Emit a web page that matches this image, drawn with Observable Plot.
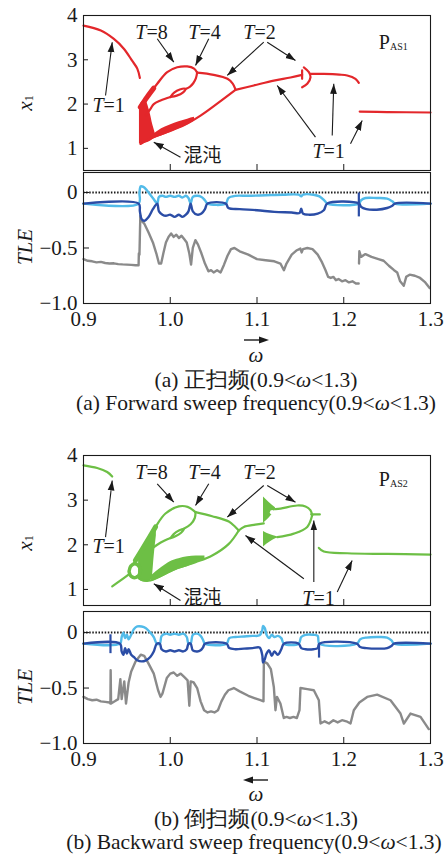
<!DOCTYPE html>
<html>
<head>
<meta charset="utf-8">
<script src="https://cdn.jsdelivr.net/npm/d3@7"></script>
<script src="https://cdn.jsdelivr.net/npm/@observablehq/plot@0.6"></script>
<style>
  body { margin: 0; background: #fff; }
  #fig { position: relative; width: 448px; height: 865px; overflow: hidden;
         font-family: "Liberation Serif", "DejaVu Serif", serif; color: #1a1a1a; }
  #fig svg.panel { position: absolute; left: 0; }
  .txt { position: absolute; white-space: nowrap; font-size: 21.5px; line-height: 0.8; transform: translate(-50%, -50%); }
  .txt i { font-style: italic; }
  .txt.w { line-height: 0.55; font-size: 21px; }
</style>
</head>
<body>
<div id="fig"></div>
<script>
// ---------- axes ----------
const omegaTicks = [0.9, 1.0, 1.1, 1.2, 1.3];
const x1Ticks = [1, 2, 3, 4];
const tleTicks = [-1, -0.5, 0];

// ---------- forward sweep: bifurcation branches [ω, x1] ----------
const fwdT1Left   = [[0.900,3.77],[0.920,3.66],[0.935,3.47],[0.9465,3.25],[0.956,2.98],[0.962,2.80],[0.965,2.59]];
const fwdOuterTop = [[0.9655,1.93],[0.9734,2.16],[0.985,2.46],[0.9965,2.72],[1.008,2.83],[1.0195,2.85],[1.0275,2.80],[1.031,2.71]];
const fwdT2Upper  = [[1.031,2.71],[1.050,2.66],[1.066,2.57],[1.072,2.46],[1.0752,2.33]];
const fwdInnerA   = [[1.031,2.71],[1.0295,2.58],[1.0265,2.47],[1.0225,2.39],[1.0176,2.34]];
const fwdLoop8    = [[1.0003,2.16],[1.0045,2.26],[1.011,2.33],[1.0176,2.34],[1.0145,2.26],[1.0075,2.19],[1.0003,2.16]];
const fwdInnerB   = [[1.0003,2.16],[0.9888,2.08],[0.981,2.0],[0.9772,1.89],[0.972,1.75]];
const fwdLowerArc = [[1.0752,2.32],[1.0541,2.01],[1.0349,1.74],[1.0156,1.52],[0.9965,1.37],[0.9772,1.22],[0.9657,1.10]];
const fwdT1Mid    = [[1.0752,2.32],[1.0963,2.42],[1.1194,2.53],[1.1386,2.60],[1.152,2.66]];
const fwdT2Tick   = [[1.152,2.57],[1.152,2.76]];
const fwdT2Hook   = [[1.154,2.83],[1.1598,2.72],[1.1617,2.61],[1.1579,2.46],[1.152,2.38]];
const fwdT1Right  = [[1.1617,2.68],[1.177,2.68],[1.195,2.665],[1.204,2.645],[1.2135,2.57],[1.2174,2.48]];
const fwdT1Low    = [[1.2184,1.83],[1.25,1.82],[1.3,1.81]];
const fwdThick    = [[0.9655,1.93],[0.9734,2.16],[0.981,2.36]];
// chaotic bands [ω, low, high]
const fwdChaosWedge = [[0.9645,1.10,1.93],[0.968,1.10,2.06],[0.972,1.12,2.06],[0.976,1.15,1.86],[0.980,1.20,1.52],[0.983,1.25,1.32]];
const fwdChaosBand  = [[0.978,1.20,1.27],[0.99,1.28,1.44],[1.0,1.36,1.53],[1.01,1.44,1.60],[1.02,1.53,1.66],[1.028,1.62,1.70]];

// ---------- backward sweep: bifurcation branches [ω, x1] ----------
const bwdT1Left   = [[0.900,3.78],[0.9158,3.72],[0.9273,3.63],[0.9331,3.53]];
const bwdTail     = [[0.9331,1.07],[0.9484,1.28],[0.9535,1.36]];
const bwdHole     = [[0.9525,1.40],[0.9545,1.52],[0.9595,1.575],[0.9645,1.50],[0.9650,1.36],[0.9605,1.27],[0.9550,1.29],[0.9525,1.40]];
const bwdOuterTop = [[0.9575,1.57],[0.9599,1.65],[0.9715,2.02],[0.983,2.40],[0.9945,2.70],[1.0099,2.86],[1.020,2.85],[1.0291,2.73]];
const bwdT2Upper  = [[1.0291,2.73],[1.0484,2.64],[1.0675,2.52],[1.0745,2.41],[1.079,2.32]];
const bwdInnerA   = [[1.0291,2.73],[1.0283,2.60],[1.0235,2.46],[1.0156,2.36]];
const bwdLoop8    = [[1.0003,2.15],[1.004,2.24],[1.010,2.32],[1.0156,2.36],[1.0125,2.27],[1.006,2.19],[1.0003,2.15]];
const bwdInnerB   = [[1.0003,2.15],[0.993,2.09],[0.985,2.0],[0.978,1.9]];
const bwdLowerArc = [[1.079,2.32],[1.0675,2.02],[1.0484,1.76],[1.0291,1.61],[1.006,1.46],[0.9868,1.28],[0.9772,1.20],[0.966,1.22],[0.962,1.30]];
const bwdT1Mid    = [[1.079,2.32],[1.0848,2.40],[1.098,2.45],[1.1078,2.48]];
const bwdIslandUp = [[1.1213,2.80],[1.1271,2.81],[1.1463,2.88],[1.1559,2.86],[1.1617,2.77],[1.1636,2.66]];
const bwdIslandLo = [[1.1233,2.17],[1.1424,2.25],[1.1579,2.40],[1.1636,2.66]];
const bwdT1Stub   = [[1.1625,2.68],[1.1724,2.68]];
const bwdT1Low    = [[1.1713,1.93],[1.177,1.85],[1.204,1.81],[1.25,1.795],[1.3,1.78]];
const bwdThick    = [[0.9599,1.65],[0.9715,2.02],[0.983,2.40]];
const bwdChaosBlob = [[0.9635,1.22,1.76],[0.968,1.17,1.93],[0.972,1.16,2.06],[0.976,1.18,2.18],[0.979,1.24,2.27],[0.9815,1.75,2.34],[0.984,2.20,2.42]];
const bwdChaosBand = [[0.978,1.17,1.30],[0.99,1.27,1.49],[1.0,1.37,1.62],[1.01,1.45,1.69],[1.02,1.51,1.73],[1.03,1.59,1.75],[1.04,1.67,1.75]];
const bwdTriUp  = [[1.1075,2.48,3.07],[1.114,2.60,2.95],[1.1213,2.78,2.83]];
const bwdTriLow = [[1.1075,1.95,2.30],[1.115,2.06,2.23],[1.1233,2.15,2.18]];
const bwdVoids  = [[1.1175,2.73]];

// ---------- annotations ----------
const fwdPeriods = [[0.9726,3.62,"8"],[1.0337,3.62,"4"],[1.0971,3.62,"2"],[0.9231,1.97,"1"],[1.1767,0.935,"1"]];
const bwdPeriods = [[0.9726,3.626,"8"],[1.0337,3.626,"4"],[1.0971,3.626,"2"],[0.9231,1.963,"1"],[1.1651,0.79,"1"]];
const fwdChaosNote = [[1.0372,0.82,"混沌"]];
const bwdChaosNote = [[1.0372,0.80,"混沌"]];
const fwdTag = [[1.2533,3.39,"P","AS1",3.30]];
const bwdTag = [[1.2533,3.45,"P","AS2",3.36]];
const fwdPointers = [[0.9254,2.194,0.9331,3.397],[0.985,3.474,1.0041,2.946],[1.0444,3.474,1.0291,2.871],
  [1.1078,3.397,1.0657,2.646],[1.1118,3.397,1.1444,2.984],[1.1674,1.253,1.1233,2.42],
  [1.1867,1.291,1.1885,2.458],[1.2078,1.104,1.2213,1.63],[1.0118,0.801,0.981,1.14]];
const bwdPointers = [[0.9254,2.171,0.9331,3.44],[0.985,3.366,1.0041,2.955],[1.0444,3.366,1.0291,2.881],
  [1.1078,3.328,1.0657,2.619],[1.1118,3.328,1.1444,2.955],[1.154,1.24,1.0867,2.209],
  [1.1655,1.164,1.1655,2.545],[1.1925,0.94,1.2097,1.65],[1.0118,0.754,0.981,1.128]];

// ---------- TLE spectra [ω, TLE] ----------
const fwdTleLight = [[0.9,-0.1],[0.9636,-0.1],[0.9645,0.0],[0.966,0.055],[0.969,0.05],[0.973,0.02],[0.977,-0.02],[0.981,-0.06],[0.985,-0.1],
  [0.987,-0.04],[0.991,-0.03],[0.995,-0.04],[1.000,-0.03],[1.005,-0.04],[1.010,-0.03],[1.014,-0.045],[1.018,-0.03],[1.021,-0.05],[1.0235,-0.1],
  [1.026,-0.04],[1.031,-0.03],[1.036,-0.04],[1.040,-0.07],[1.043,-0.1],[1.064,-0.1],[1.067,-0.05],[1.075,-0.03],[1.090,-0.03],[1.110,-0.025],
  [1.130,-0.02],[1.148,-0.02],[1.151,-0.035],[1.153,-0.02],[1.165,-0.02],[1.172,-0.035],[1.178,-0.075],[1.181,-0.1],[1.2176,-0.1],
  [1.220,-0.07],[1.225,-0.05],[1.238,-0.05],[1.250,-0.055],[1.256,-0.08],[1.259,-0.1],[1.3,-0.1]];
const fwdTleDark = [[0.9,-0.1],[0.9636,-0.1],[0.965,-0.17],[0.967,-0.24],[0.970,-0.255],[0.975,-0.22],[0.980,-0.15],[0.985,-0.1],
  [0.987,-0.17],[0.991,-0.2],[0.995,-0.21],[1.000,-0.2],[1.005,-0.22],[1.010,-0.2],[1.014,-0.22],[1.018,-0.2],[1.021,-0.17],[1.0235,-0.1],
  [1.026,-0.17],[1.031,-0.2],[1.036,-0.19],[1.040,-0.15],[1.043,-0.1],[1.064,-0.1],[1.067,-0.14],[1.080,-0.15],[1.100,-0.16],[1.120,-0.175],
  [1.140,-0.18],[1.149,-0.185],[1.151,-0.145],[1.153,-0.19],[1.160,-0.2],[1.170,-0.19],[1.177,-0.16],[1.181,-0.1],[1.2176,-0.1],
  [1.220,-0.13],[1.226,-0.15],[1.238,-0.155],[1.250,-0.14],[1.256,-0.12],[1.259,-0.1],[1.3,-0.1]];
const fwdTleJumps = [[1.2174,-0.005,-0.22]];
const fwdTleGray = [[0.900,-0.60],[0.905,-0.615],[0.910,-0.62],[0.915,-0.63],[0.920,-0.625],[0.925,-0.635],[0.930,-0.64],[0.935,-0.638],
  [0.940,-0.645],[0.945,-0.648],[0.950,-0.65],[0.955,-0.652],[0.960,-0.655],[0.9635,-0.655],[0.9638,-0.55],[0.9645,-0.56],[0.9655,-0.21],
  [0.9665,-0.25],[0.970,-0.28],[0.975,-0.36],[0.980,-0.45],[0.984,-0.55],[0.987,-0.64],[0.9895,-0.64],[0.992,-0.55],[0.995,-0.45],
  [0.998,-0.40],[1.001,-0.37],[1.004,-0.40],[1.007,-0.38],[1.010,-0.41],[1.013,-0.39],[1.016,-0.42],[1.019,-0.45],[1.022,-0.55],
  [1.024,-0.65],[1.026,-0.50],[1.029,-0.43],[1.032,-0.47],[1.036,-0.55],[1.040,-0.64],[1.044,-0.71],[1.047,-0.70],[1.050,-0.72],
  [1.054,-0.70],[1.058,-0.72],[1.062,-0.65],[1.066,-0.57],[1.070,-0.51],[1.074,-0.50],[1.080,-0.53],[1.090,-0.56],[1.100,-0.60],
  [1.110,-0.61],[1.120,-0.62],[1.127,-0.64],[1.131,-0.70],[1.134,-0.64],[1.140,-0.56],[1.146,-0.52],[1.150,-0.505],[1.1515,-0.54],
  [1.153,-0.51],[1.158,-0.50],[1.164,-0.51],[1.170,-0.56],[1.175,-0.63],[1.179,-0.70],[1.182,-0.76],[1.185,-0.77],[1.188,-0.76],
  [1.191,-0.79],[1.194,-0.78],[1.198,-0.80],[1.202,-0.79],[1.206,-0.81],[1.210,-0.80],[1.214,-0.82],[1.2172,-0.82],[1.2173,null],
  [1.2176,-0.64],[1.218,-0.53],[1.220,-0.58],[1.225,-0.555],[1.232,-0.58],[1.240,-0.60],[1.246,-0.615],[1.252,-0.66],[1.258,-0.70],
  [1.2616,-0.72],[1.265,-0.80],[1.2692,-0.84],[1.272,-0.76],[1.276,-0.74],[1.282,-0.75],[1.288,-0.77],[1.294,-0.81],[1.299,-0.86]];

const bwdTleLight = [[0.9,-0.1],[0.942,-0.1],[0.944,-0.04],[0.946,0.0],[0.948,-0.05],[0.950,-0.02],[0.952,-0.06],[0.955,-0.02],
  [0.958,0.03],[0.962,0.055],[0.967,0.055],[0.972,0.04],[0.977,0.0],[0.981,-0.04],[0.9845,-0.1],[0.988,-0.1],[0.990,-0.03],
  [0.995,-0.01],[1.0,-0.02],[1.005,-0.01],[1.010,-0.02],[1.015,-0.01],[1.019,-0.04],[1.021,-0.1],[1.0235,-0.1],[1.026,-0.02],
  [1.031,-0.01],[1.035,-0.03],[1.038,-0.07],[1.040,-0.1],[1.065,-0.1],[1.068,-0.05],[1.075,-0.04],[1.085,-0.035],[1.095,-0.03],
  [1.103,-0.025],[1.106,0.02],[1.107,0.06],[1.109,0.04],[1.111,-0.02],[1.114,-0.05],[1.117,-0.02],[1.120,-0.04],[1.124,-0.03],
  [1.128,-0.05],[1.131,-0.1],[1.148,-0.1],[1.151,-0.04],[1.156,-0.02],[1.165,-0.02],[1.170,-0.03],[1.172,-0.1],[1.215,-0.1],
  [1.219,-0.06],[1.226,-0.045],[1.240,-0.04],[1.250,-0.045],[1.255,-0.07],[1.258,-0.1],[1.3,-0.1]];
const bwdTleDark = [[0.9,-0.1],[0.942,-0.1],[0.944,-0.17],[0.946,-0.2],[0.948,-0.14],[0.950,-0.19],[0.952,-0.15],[0.955,-0.2],
  [0.958,-0.22],[0.962,-0.25],[0.967,-0.26],[0.972,-0.25],[0.977,-0.22],[0.981,-0.17],[0.9845,-0.1],[0.988,-0.1],[0.990,-0.15],
  [0.995,-0.17],[1.0,-0.16],[1.005,-0.17],[1.010,-0.16],[1.015,-0.17],[1.019,-0.15],[1.021,-0.1],[1.0235,-0.1],[1.026,-0.16],
  [1.031,-0.17],[1.035,-0.16],[1.038,-0.13],[1.040,-0.1],[1.065,-0.1],[1.068,-0.14],[1.075,-0.15],[1.085,-0.145],[1.095,-0.14],
  [1.103,-0.135],[1.106,-0.2],[1.107,-0.27],[1.109,-0.24],[1.111,-0.19],[1.114,-0.16],[1.117,-0.21],[1.120,-0.17],[1.124,-0.2],
  [1.128,-0.15],[1.131,-0.1],[1.148,-0.1],[1.151,-0.14],[1.156,-0.15],[1.165,-0.15],[1.170,-0.14],[1.172,-0.1],[1.215,-0.1],
  [1.219,-0.13],[1.226,-0.14],[1.240,-0.145],[1.250,-0.14],[1.255,-0.12],[1.258,-0.1],[1.3,-0.1]];
const bwdTleJumps = [[0.9311,-0.02,-0.19],[1.1715,-0.1,-0.23]];
const bwdTleGray = [[0.900,-0.58],[0.905,-0.60],[0.910,-0.61],[0.915,-0.605],[0.920,-0.62],[0.925,-0.625],[0.930,-0.63],[0.931,-0.64],
  [0.9313,-0.34],[0.9318,-0.64],[0.936,-0.62],[0.940,-0.60],[0.9425,-0.42],[0.944,-0.60],[0.947,-0.44],[0.949,-0.64],[0.952,-0.45],
  [0.955,-0.35],[0.960,-0.26],[0.966,-0.20],[0.970,-0.21],[0.975,-0.28],[0.981,-0.37],[0.986,-0.52],[0.9888,-0.58],[0.991,-0.55],
  [0.996,-0.41],[1.000,-0.37],[1.004,-0.36],[1.008,-0.39],[1.012,-0.37],[1.016,-0.40],[1.020,-0.43],[1.022,-0.66],[1.0235,-0.44],
  [1.027,-0.45],[1.031,-0.50],[1.035,-0.62],[1.039,-0.70],[1.043,-0.72],[1.047,-0.71],[1.051,-0.72],[1.055,-0.70],[1.059,-0.62],
  [1.063,-0.56],[1.067,-0.52],[1.0733,-0.50],[1.080,-0.53],[1.090,-0.57],[1.097,-0.59],[1.104,-0.61],[1.1075,-0.62],[1.1079,-0.26],
  [1.112,-0.28],[1.116,-0.33],[1.1194,-0.49],[1.1213,-0.70],[1.123,-0.58],[1.127,-0.64],[1.1309,-0.77],[1.134,-0.76],[1.138,-0.77],
  [1.142,-0.76],[1.146,-0.77],[1.149,-0.70],[1.1501,-0.50],[1.158,-0.51],[1.1655,-0.52],[1.1713,-0.61],[1.1732,-0.82],[1.178,-0.80],
  [1.183,-0.82],[1.188,-0.79],[1.193,-0.81],[1.198,-0.79],[1.203,-0.80],[1.2078,-0.82],[1.2116,-0.70],[1.218,-0.63],[1.227,-0.58],
  [1.2385,-0.56],[1.2539,-0.61],[1.2654,-0.73],[1.2693,-0.82],[1.2769,-0.73],[1.2885,-0.76],[1.298,-0.87]];

// ---------- drawing ----------
const serif = "\"Liberation Serif\", \"DejaVu Serif\", serif";
const cjk = "\"Noto Sans CJK SC\", sans-serif";
const ink = "#1a1a1a";
const W = 448, ML = 83, MR = 18;

const lineRows = (branches) => branches.flatMap((pts, k) => pts.map(([w, v]) => ({w, v, k})));
const bandRows = (bands) => bands.flatMap((pts, k) => pts.map(([w, lo, hi]) => ({w, lo, hi, k})));

// filled arrowhead for the pointer lines
const solidHead = (color, context) => {
  const m = d3.select(context.document.createElementNS("http://www.w3.org/2000/svg", "marker"))
    .attr("viewBox", "-10 -5 10 10").attr("markerWidth", 10).attr("markerHeight", 10)
    .attr("markerUnits", "userSpaceOnUse").attr("orient", "auto")
    .attr("fill", color).attr("stroke", "none");
  m.append("path").attr("d", "M-10,-3.4L0,0L-10,3.4Z");
  return m.node();
};
function pointers(data) {
  const o = {x1: d => d[0], y1: d => d[1], x2: d => d[2], y2: d => d[3], stroke: ink, strokeWidth: 1.1};
  try { return Plot.link(data, {...o, markerEnd: solidHead}); }
  catch (e) { return Plot.arrow(data, {...o, headLength: 8, headAngle: 40}); }
}

const baseStyle = {fontFamily: serif, fontSize: "20px", background: "none", overflow: "visible", color: ink};

function place(svg, top) {
  svg.classList.add("panel");
  svg.style.top = top + "px";
  document.getElementById("fig").appendChild(svg);
  return svg;
}

function sideLabel(svg, cx, cy, parts) {
  const t = d3.select(svg).append("text")
    .attr("transform", `translate(${cx},${cy}) rotate(-90)`)
    .attr("text-anchor", "middle").attr("dominant-baseline", "central")
    .attr("fill", ink).style("font-family", serif).style("font-size", "21px");
  for (const p of parts) {
    const s = t.append("tspan").text(p.t);
    if (p.i) s.style("font-style", "italic");
    if (p.sub) s.style("font-size", "12px").attr("dy", p.sub);
  }
}

function bifurcation({top, height, domain, color, lines, thick, loops, bands, voids, periods, chaos, tag, arrows}) {
  const svg = Plot.plot({
    width: W, height, marginLeft: ML, marginRight: MR, marginTop: 15, marginBottom: 2,
    x: {domain: [0.9, 1.3], label: null}, y: {domain, label: null},
    style: baseStyle,
    marks: [
      Plot.areaY(bandRows(bands), {x: "w", y1: "lo", y2: "hi", z: "k", fill: color, curve: "monotone-x"}),
      Plot.line(lineRows(lines), {x: "w", y: "v", z: "k", stroke: color, strokeWidth: 2.2, curve: "catmull-rom"}),
      Plot.line(lineRows(thick), {x: "w", y: "v", z: "k", stroke: color, strokeWidth: 5, curve: "catmull-rom"}),
      Plot.line(lineRows(loops), {x: "w", y: "v", z: "k", stroke: color, strokeWidth: 3.5, curve: "catmull-rom"}),
      Plot.dot(voids, {x: d => d[0], y: d => d[1], r: 2.3, fill: "white", stroke: "none"}),
      pointers(arrows),
      Plot.text(periods, {x: d => d[0], y: d => d[1], text: () => "T", textAnchor: "end", fontStyle: "italic", fill: ink}),
      Plot.text(periods, {x: d => d[0], y: d => d[1], text: d => "=" + d[2], textAnchor: "start", fill: ink}),
      Plot.text(chaos, {x: d => d[0], y: d => d[1], text: d => d[2], fontFamily: cjk, fontSize: 19, fill: ink}),
      Plot.text(tag, {x: d => d[0], y: d => d[1], text: d => d[2], textAnchor: "end", fill: ink}),
      Plot.text(tag, {x: d => d[0], y: d => d[4], text: d => d[3], textAnchor: "start", fontSize: 10, fill: ink}),
      Plot.axisX({ticks: omegaTicks.slice(1, 4), anchor: "bottom", tickSize: -6, tickFormat: () => "", label: null}),
      Plot.axisY({ticks: x1Ticks, anchor: "left", tickSize: -5, tickFormat: () => "", label: null}),
      Plot.axisY({ticks: x1Ticks, anchor: "left", tickSize: 0, tickPadding: 6, tickFormat: d => String(d), fontSize: 21, label: null}),
      Plot.frame({stroke: ink, strokeWidth: 1.1})
    ]
  });
  place(svg, top);
  sideLabel(svg, 25, 103, [{t: "x", i: true}, {t: "1", sub: 4}]);
  return svg;
}

const fmtTle = d => d === 0 ? "0" : d3.format(".1f")(d).replace("-", "\u2212");

function spectrum({top, mt, light, dark, gray, jumps, yTop}) {
  const svg = Plot.plot({
    width: W, height: 185, marginLeft: ML, marginRight: MR, marginTop: mt, marginBottom: 42,
    x: {domain: [0.9, 1.3], label: null}, y: {domain: [-1, yTop], label: null},
    style: baseStyle,
    marks: [
      Plot.ruleY([0], {stroke: ink, strokeWidth: 2, strokeDasharray: "1.5,1.6"}),
      Plot.line(gray, {x: d => d[0], y: d => d[1], stroke: "#8a8a8a", strokeWidth: 2.4}),
      Plot.line(light, {x: d => d[0], y: d => d[1], stroke: "#52bbe9", strokeWidth: 2.4, curve: "catmull-rom"}),
      Plot.line(dark, {x: d => d[0], y: d => d[1], stroke: "#2b4da6", strokeWidth: 2.4, curve: "catmull-rom"}),
      Plot.ruleX(jumps, {x: d => d[0], y1: d => d[1], y2: d => d[2], stroke: "#2b4da6", strokeWidth: 2.2}),
      Plot.axisX({ticks: omegaTicks.slice(1, 4), anchor: "bottom", tickSize: -6, tickFormat: () => "", label: null}),
      Plot.axisX({ticks: omegaTicks, anchor: "bottom", tickSize: 0, tickPadding: 8, tickFormat: d => d.toFixed(1), fontSize: 21, label: null}),
      Plot.axisY({ticks: tleTicks, anchor: "left", tickSize: -6, tickFormat: () => "", label: null}),
      Plot.axisY({ticks: tleTicks, anchor: "left", tickSize: 0, tickPadding: 6, tickFormat: fmtTle, fontSize: 21, label: null}),
      Plot.frame({stroke: ink, strokeWidth: 1.1})
    ]
  });
  place(svg, top);
  sideLabel(svg, 25, 87, [{t: "TLE", i: true}]);
  return svg;
}

const red = "#e3272b", green = "#6dbf45";

bifurcation({
  top: 0, height: 172, domain: [0.5, 4], color: red,
  lines: [fwdT1Left, fwdOuterTop, fwdT2Upper, fwdInnerA, fwdLoop8, fwdInnerB, fwdLowerArc, fwdT1Mid, fwdT2Tick, fwdT2Hook, fwdT1Right, fwdT1Low],
  thick: [fwdThick], loops: [], bands: [fwdChaosWedge, fwdChaosBand], voids: [],
  periods: fwdPeriods, chaos: fwdChaosNote, tag: fwdTag, arrows: fwdPointers
});
spectrum({top: 160, mt: 12, yTop: 0.18, light: fwdTleLight, dark: fwdTleDark, gray: fwdTleGray, jumps: fwdTleJumps});

bifurcation({
  top: 440, height: 167, domain: [0.64, 4], color: green,
  lines: [bwdT1Left, bwdTail, bwdOuterTop, bwdT2Upper, bwdInnerA, bwdLoop8, bwdInnerB, bwdLowerArc, bwdT1Mid, bwdIslandUp, bwdIslandLo, bwdT1Stub, bwdT1Low],
  thick: [bwdThick], loops: [bwdHole], bands: [bwdChaosBlob, bwdChaosBand, bwdTriUp, bwdTriLow], voids: bwdVoids,
  periods: bwdPeriods, chaos: bwdChaosNote, tag: bwdTag, arrows: bwdPointers
});
spectrum({top: 600, mt: 11, yTop: 0.19, light: bwdTleLight, dark: bwdTleDark, gray: bwdTleGray, jumps: bwdTleJumps});

// sweep direction arrows, ω labels and captions
const fig = document.getElementById("fig");
function html(s) { fig.insertAdjacentHTML("beforeend", s); }
function sweepArrow(top, right) {
  const d = right ? "M2,6H19" : "M9,6H26";
  const h = right ? "M27,6L17,2.6L17,9.4Z" : "M1,6L11,2.6L11,9.4Z";
  html(`<svg style="position:absolute;left:242px;top:${top - 6}px" width="28" height="12"><path d="${d}" stroke="${ink}" stroke-width="1.4"/><path d="${h}" fill="${ink}"/></svg>`);
}
sweepArrow(340, true);
html(`<div class="txt w" style="left:256px;top:356px"><i>ω</i></div>`);
html(`<div class="txt" style="left:256px;top:381px">(a) 正扫频(0.9&lt;<i>ω</i>&lt;1.3)</div>`);
html(`<div class="txt" style="left:256px;top:404px">(a) Forward sweep frequency(0.9&lt;<i>ω</i>&lt;1.3)</div>`);
sweepArrow(780, false);
html(`<div class="txt w" style="left:256px;top:795px"><i>ω</i></div>`);
html(`<div class="txt" style="left:256px;top:820px">(b) 倒扫频(0.9&lt;<i>ω</i>&lt;1.3)</div>`);
html(`<div class="txt" style="left:254px;top:843px">(b) Backward sweep frequency(0.9&lt;<i>ω</i>&lt;1.3)</div>`);
</script>
</body>
</html>
